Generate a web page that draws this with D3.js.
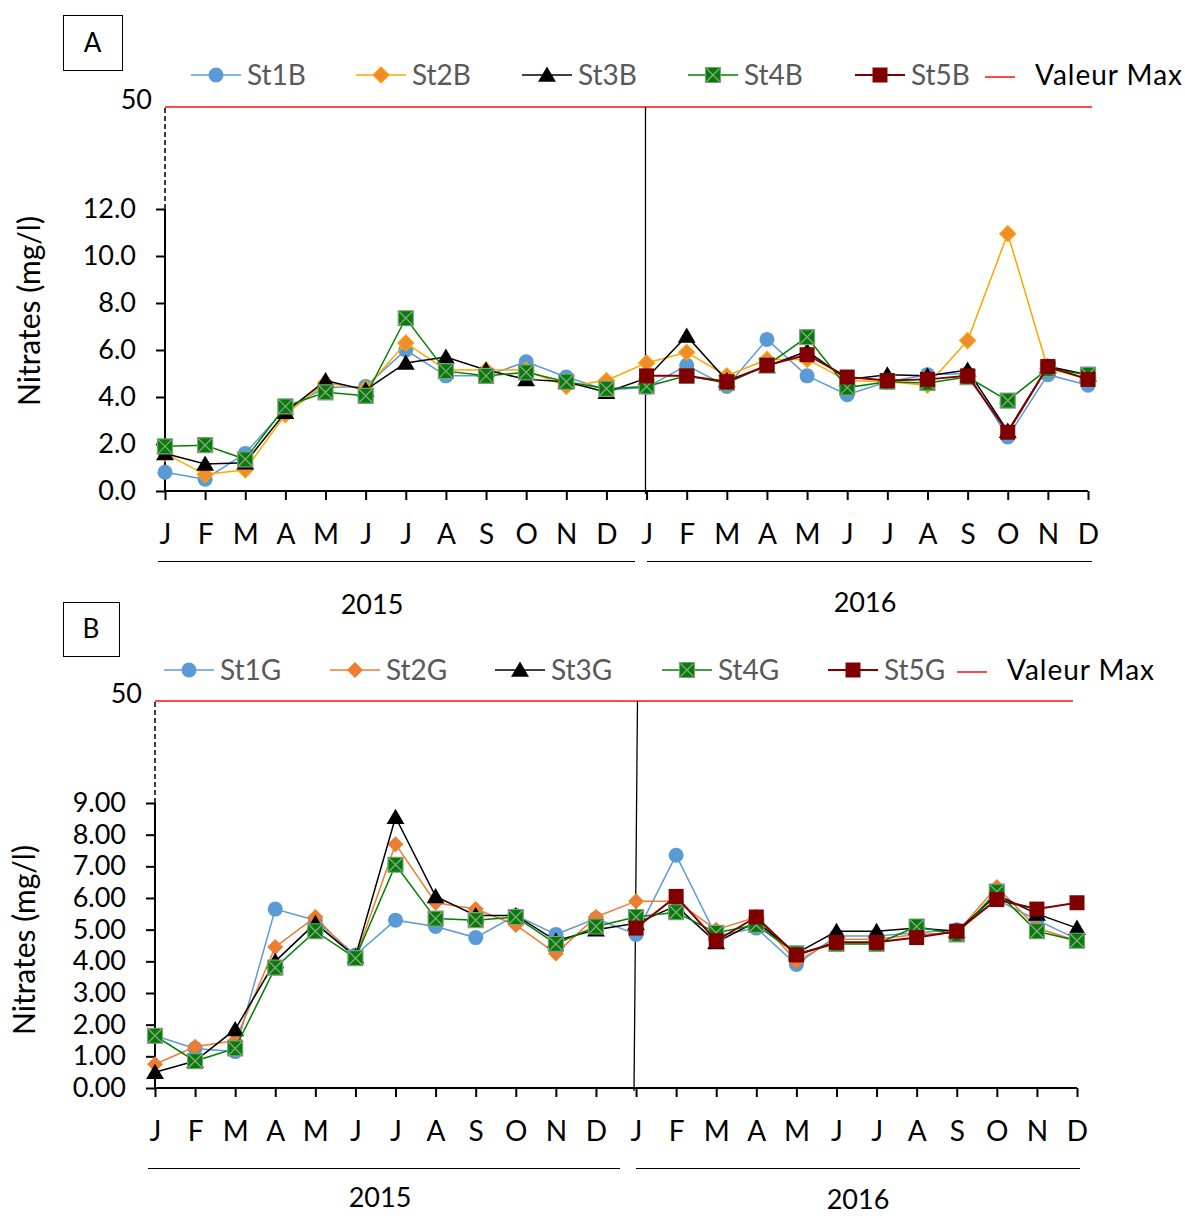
<!DOCTYPE html>
<html>
<head>
<meta charset="utf-8">
<script src="https://cdn.jsdelivr.net/npm/d3@7/dist/d3.min.js"></script>
<style>
  html, body { margin: 0; padding: 0; background: #fff; }
  svg text { font-family: Lato, "Open Sans", sans-serif; }
</style>
</head>
<body>
<svg id="chart" width="1185" height="1216"></svg>
<script>
// Month initials for the two years (2015, 2016)
const monthLabels = ["J","F","M","A","M","J","J","A","S","O","N","D",
                     "J","F","M","A","M","J","J","A","S","O","N","D"];
const years = ["2015", "2016"];
const limitValue = 50;           // Valeur Max (mg/l)

// Panel A: stations St1B..St5B (nitrates, mg/l)
const st1B = [0.8,0.5,1.6,3.5,4.4,4.45,6.0,4.9,4.9,5.5,4.85,4.3, 4.4,5.35,4.45,6.45,4.9,4.1,4.65,4.95,5.0,2.3,4.95,4.5];
const st2B = [1.6,0.7,0.9,3.25,4.6,4.35,6.3,5.15,5.15,5.15,4.45,4.7, 5.45,5.9,4.9,5.6,5.6,4.7,4.65,4.5,6.4,10.95,5.2,4.8];
const st3B = [1.6,1.15,1.2,3.35,4.7,4.3,5.45,5.7,5.15,4.75,4.65,4.2, 4.8,6.6,4.7,5.3,5.95,4.75,4.95,4.9,5.15,2.55,5.3,4.95];
const st4B = [1.9,1.95,1.35,3.6,4.2,4.05,7.35,5.1,4.9,5.05,4.65,4.35, 4.45,4.9,4.6,5.35,6.55,4.4,4.65,4.6,4.85,3.85,5.2,4.95];
const st5B = [null,null,null,null,null,null,null,null,null,null,null,null, 4.9,4.9,4.65,5.35,5.8,4.85,4.7,4.75,4.9,2.5,5.3,4.75];
const ticksA = [0, 2, 4, 6, 8, 10, 12];

// Panel B: stations St1G..St5G (nitrates, mg/l)
const st1G = [1.65,1.25,1.15,5.65,5.3,4.2,5.3,5.1,4.75,5.45,4.85,5.35, 4.85,7.35,4.8,5.05,3.9,4.8,4.8,4.9,5.0,5.95,5.3,4.7];
const st2G = [0.75,1.3,1.5,4.45,5.4,4.1,7.7,5.85,5.65,5.15,4.25,5.4, 5.9,5.9,5.0,5.4,4.0,4.7,4.7,4.85,4.9,6.35,5.05,4.65];
const st3G = [0.5,0.85,1.85,4.0,5.2,4.15,8.55,6.05,5.45,5.45,4.65,5.0, 5.2,5.75,4.6,5.25,4.25,4.95,4.95,5.05,4.95,6.1,5.5,5.05];
const st4G = [1.65,0.85,1.25,3.8,4.95,4.1,7.05,5.35,5.3,5.4,4.55,5.1, 5.4,5.55,4.9,5.15,4.25,4.55,4.55,5.1,4.85,6.2,4.95,4.65];
const st5G = [null,null,null,null,null,null,null,null,null,null,null,null, 5.05,6.05,4.65,5.4,4.2,4.6,4.6,4.75,4.95,5.95,5.65,5.85];
const ticksB = [0, 1, 2, 3, 4, 5, 6, 7, 8, 9];

const svg = d3.select("#chart");

// marker path generators (centred on 0,0)
const markerPath = {
  circle:   r => `M${-r},0a${r},${r} 0 1,0 ${2*r},0a${r},${r} 0 1,0 ${-2*r},0Z`,
  diamond:  r => `M0,${-r}L${r},0L0,${r}L${-r},0Z`,
  triangle: r => `M0,${-r}L${r*1.05},${r*0.8}L${-r*1.05},${r*0.8}Z`,
  square:   r => `M${-r},${-r}H${r}V${r}H${-r}Z`
};

function drawMarker(g, shape, style, x, y) {
  const sizes = {circle: 7.5, diamond: 8, triangle: 8.5, square: 7.5};
  g.append("path")
    .attr("transform", `translate(${x},${y})`)
    .attr("d", markerPath[shape](sizes[shape]))
    .attr("fill", style.fill)
    .attr("stroke", style.mstroke || "none")
    .attr("stroke-width", style.mstroke ? 1.2 : 0);
  if (style.cross) {
    const r = sizes[shape] - 1;
    g.append("path")
      .attr("transform", `translate(${x},${y})`)
      .attr("d", `M${-r},${-r}L${r},${r}M${r},${-r}L${-r},${r}`)
      .attr("stroke", style.cross).attr("stroke-width", 1.3).attr("fill", "none");
  }
}

function drawPanel(cfg) {
  const g = svg.append("g");
  const x = d3.scalePoint().domain(d3.range(monthLabels.length)).range([cfg.x0, cfg.x1]);
  // broken value axis: 0..top tick on the lower part, 50 drawn above the break
  const y = d3.scaleLinear().domain([0, cfg.top, limitValue]).range([cfg.y0, cfg.yTop, cfg.yLimit]);
  const fmt = d3.format(cfg.fmt);

  // panel letter box
  g.append("rect").attr("x", cfg.box[0] + 0.5).attr("y", cfg.box[1] + 0.5).attr("width", cfg.box[2]).attr("height", cfg.box[3])
    .attr("fill", "none").attr("stroke", "#000").attr("stroke-width", 1);
  g.append("text").attr("x", cfg.box[0] + cfg.box[2] / 2).attr("y", cfg.box[1] + cfg.box[3] / 2 + 9)
    .attr("text-anchor", "middle").attr("font-size", 26).text(cfg.letter);

  // y axis (lower part)
  const yAxis = d3.axisLeft(y).tickValues(cfg.ticks).tickFormat(fmt).tickSize(9).tickPadding(20);
  const ya = g.append("g").attr("transform", `translate(${cfg.x0},0)`).call(yAxis);
  ya.select(".domain").remove();
  ya.selectAll(".tick line").attr("stroke", "#000").attr("stroke-width", 2);
  ya.selectAll(".tick text").attr("font-size", 27).attr("fill", "#000").attr("font-family", "Lato, sans-serif");
  g.append("line").attr("x1", cfg.x0).attr("x2", cfg.x0).attr("y1", y(0)).attr("y2", y(cfg.top))
    .attr("stroke", "#000").attr("stroke-width", 2);
  // dashed continuation up to the limit line
  g.append("line").attr("x1", cfg.x0).attr("x2", cfg.x0).attr("y1", y(cfg.top)).attr("y2", y(limitValue))
    .attr("stroke", "#000").attr("stroke-width", 1.5).attr("stroke-dasharray", "5,3");
  g.append("text").attr("x", cfg.x0 - 13).attr("y", y(limitValue) + 2).attr("text-anchor", "end")
    .attr("font-size", 27).text(String(limitValue));

  // x axis
  const xAxis = d3.axisBottom(x).tickFormat(i => monthLabels[i]).tickSize(9).tickPadding(24);
  const xa = g.append("g").attr("transform", `translate(0,${cfg.y0})`).call(xAxis);
  xa.select(".domain").attr("d", `M${cfg.x0},0H${cfg.x1}`).attr("stroke", "#000").attr("stroke-width", 2);
  xa.selectAll(".tick line").attr("stroke", "#000").attr("stroke-width", 2);
  xa.selectAll(".tick text").attr("font-size", 28).attr("fill", "#000").attr("font-family", "Lato, sans-serif");

  // limit line (Valeur Max)
  g.append("line").attr("x1", cfg.x0).attr("x2", cfg.limitX1).attr("y1", y(limitValue)).attr("y2", y(limitValue))
    .attr("stroke", "#FF4B4B").attr("stroke-width", 2.2);

  // year separator
  g.append("line").attr("x1", cfg.sep[0]).attr("x2", cfg.sep[1]).attr("y1", y(limitValue)).attr("y2", cfg.y0 + 3)
    .attr("stroke", "#000").attr("stroke-width", 1.3);

  // year brackets and labels
  cfg.years.forEach((yr, i) => {
    g.append("line").attr("x1", yr.l).attr("x2", yr.r).attr("y1", cfg.yearLineY + 0.5).attr("y2", cfg.yearLineY + 0.5)
      .attr("stroke", "#000").attr("stroke-width", 1.2);
    g.append("text").attr("x", yr.cx).attr("y", yr.ty).attr("text-anchor", "middle")
      .attr("font-size", 27).text(years[i]);
  });

  // y axis title
  g.append("text")
    .attr("transform", `translate(${cfg.titleX},${cfg.titleY}) rotate(-90)`)
    .attr("text-anchor", "middle").attr("font-size", 30).text("Nitrates (mg/l)");

  // series: line first, then its markers
  cfg.series.forEach(s => {
    const pts = s.values.map((v, i) => ({v, i}));
    g.append("path")
      .attr("d", d3.line().defined(d => d.v != null).x(d => x(d.i)).y(d => y(d.v))(pts))
      .attr("fill", "none").attr("stroke", s.style.line).attr("stroke-width", s.style.lw || 1.5);
    const mg = g.append("g");
    pts.forEach(d => { if (d.v != null) drawMarker(mg, s.shape, s.style, x(d.i), y(d.v)); });
  });

  // legend
  const lg = g.append("g");
  cfg.series.forEach((s, k) => {
    const lx = cfg.legendX[k], ly = cfg.legendY;
    lg.append("line").attr("x1", lx).attr("x2", lx + 50).attr("y1", ly).attr("y2", ly)
      .attr("stroke", s.style.line).attr("stroke-width", s.style.lw || 1.5);
    drawMarker(lg, s.shape, s.style, lx + 25, ly);
    lg.append("text").attr("x", lx + 56).attr("y", ly + 10).attr("font-size", 28).attr("fill", "#595959").text(s.name);
  });
  const vx = cfg.legendX[5];
  lg.append("line").attr("x1", vx).attr("x2", vx + 30).attr("y1", cfg.legendY + 2).attr("y2", cfg.legendY + 2)
    .attr("stroke", "#FF4B4B").attr("stroke-width", 2);
  lg.append("text").attr("x", vx + 50).attr("y", cfg.legendY + 10).attr("font-size", 28)
    .attr("letter-spacing", 1).attr("fill", "#000").text("Valeur Max");
}

const styles = {
  s1: {line: "#5B9BD5", fill: "#5B9BD5"},
  s2A: {line: "#FFA500", fill: "#F08A2E", mstroke: "#FFA500"},
  s2B: {line: "#ED7D31", fill: "#ED7D31"},
  s3: {line: "#000000", fill: "#000000"},
  s4: {line: "#008000", fill: "#008000", mstroke: "#7F9F7F", cross: "#9A9A9A"},
  s5: {line: "#800000", fill: "#800000", lw: 2}
};

drawPanel({
  letter: "A", box: [63, 15, 59, 55],
  x0: 165, x1: 1088, y0: 491, yTop: 209, yLimit: 107, top: 12, ticks: ticksA, fmt: ".1f",
  limitX1: 1092, sep: [645.5, 645.5],
  yearLineY: 561,
  years: [{l: 158, r: 635, cx: 372, ty: 614}, {l: 647, r: 1092, cx: 865, ty: 612}],
  titleX: 40, titleY: 311,
  legendY: 75, legendX: [191, 356, 522, 688, 855, 985],
  series: [
    {name: "St1B", values: st1B, shape: "circle", style: styles.s1},
    {name: "St2B", values: st2B, shape: "diamond", style: styles.s2A},
    {name: "St3B", values: st3B, shape: "triangle", style: styles.s3},
    {name: "St4B", values: st4B, shape: "square", style: styles.s4},
    {name: "St5B", values: st5B, shape: "square", style: styles.s5}
  ]
});

drawPanel({
  letter: "B", box: [63, 602, 56, 54],
  x0: 155, x1: 1077, y0: 1088, yTop: 803, yLimit: 701, top: 9, ticks: ticksB, fmt: ".2f",
  limitX1: 1073, sep: [637.5, 634],
  yearLineY: 1168,
  years: [{l: 148, r: 620, cx: 380, ty: 1207}, {l: 636, r: 1080, cx: 858, ty: 1209}],
  titleX: 35, titleY: 940,
  legendY: 670, legendX: [164, 330, 495, 662, 828, 957],
  series: [
    {name: "St1G", values: st1G, shape: "circle", style: styles.s1},
    {name: "St2G", values: st2G, shape: "diamond", style: styles.s2B},
    {name: "St3G", values: st3G, shape: "triangle", style: styles.s3},
    {name: "St4G", values: st4G, shape: "square", style: styles.s4},
    {name: "St5G", values: st5G, shape: "square", style: styles.s5}
  ]
});
</script>
</body>
</html>
